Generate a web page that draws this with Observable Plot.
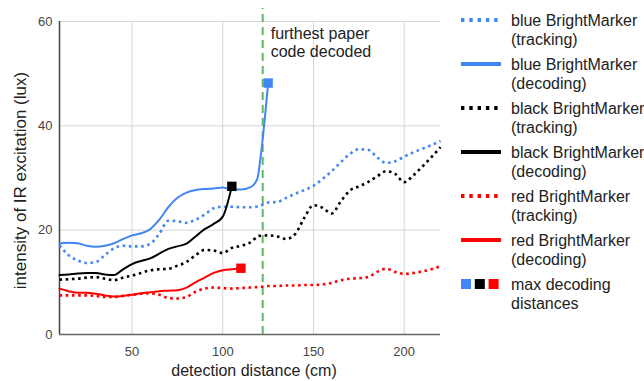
<!DOCTYPE html>
<html>
<head>
<meta charset="utf-8">
<script src="https://cdn.jsdelivr.net/npm/d3@7"></script>
<script src="https://cdn.jsdelivr.net/npm/@observablehq/plot@0.6"></script>
<style>
  html, body { margin: 0; padding: 0; background: #fff; }
  #wrap { position: relative; width: 644px; height: 381px; overflow: hidden; font-family: "Liberation Sans", Arial, sans-serif; }
  #legend { position: absolute; left: 461px; top: 0; width: 190px; }
  .item { position: absolute; left: 0; height: 38px; }
  .item svg { position: absolute; left: 0; }
  .item .lbl { position: absolute; left: 50px; top: 1px; font-size: 16px; line-height: 19px; color: #222; white-space: nowrap; }
</style>
</head>
<body>
<div id="wrap"><div id="legend"></div></div>
<script>
// ---- data ----
const dist = [10,15,20,25,30,35,40,45,50,55,60,65,70,75,80,85,90,95,100,105,110,115,120,125,130,135,140,145,150,155,160,165,170,175,180,185,190,195,200,205,210,215,220];
const blueTracking  = [17.1,15.2,14.2,13.7,13.9,15.2,16.5,17.0,16.9,16.9,17.4,19.3,21.8,21.7,21.4,22.0,23.0,24.2,24.5,24.5,24.4,24.4,24.6,25.3,25.4,26.2,27.0,27.7,28.5,29.8,31.3,33.0,34.6,35.5,35.4,34.0,32.9,33.2,34.1,34.9,35.6,36.3,37.1];
const blackTracking = [10.5,10.6,10.7,10.9,11.0,10.7,10.4,10.9,11.3,11.8,12.3,12.5,12.6,13.2,13.9,15.2,16.2,16.1,15.6,16.6,17.0,17.6,18.9,19.0,18.8,18.3,19.3,22.4,24.8,24.3,23.2,25.5,27.6,28.4,29.2,30.3,31.3,30.8,29.2,30.5,32.2,34.0,35.9];
const redTracking   = [7.5,7.5,7.5,7.5,7.4,7.2,7.2,7.4,7.6,7.8,7.9,7.6,7.0,6.9,7.2,8.2,8.8,9.0,8.9,8.8,8.9,9.0,9.1,9.3,9.3,9.4,9.4,9.5,9.5,9.6,9.9,10.4,10.7,10.8,11.0,12.0,12.6,12.0,11.6,11.8,12.1,12.5,13.1];

const blueDecDist  = [10,15,20,25,30,35,40,45,50,55,60,65,70,75,80,85,90,95,100,105,110,115,119,121,125];
const blueDecoding = [17.5,17.6,17.5,17.0,16.8,17.0,17.5,18.3,19.0,19.4,20.2,22.0,24.4,26.2,27.2,27.7,27.9,28.0,28.2,27.8,27.8,28.2,29.8,34.5,48.2];
const blackDecDist  = [10,15,20,25,30,35,40,45,50,55,60,65,70,75,80,85,90,95,100,105];
const blackDecoding = [11.4,11.5,11.7,11.8,11.8,11.5,11.4,12.5,13.5,14.1,14.6,15.5,16.4,16.9,17.4,18.8,20.2,21.2,22.6,28.4];
const redDecDist  = [10,15,20,25,30,35,40,45,50,55,60,65,70,75,80,85,90,95,100,105,110];
const redDecoding = [8.8,8.3,8.0,8.0,7.8,7.5,7.3,7.4,7.6,7.9,8.1,8.3,8.4,8.5,9.0,10.0,10.9,11.8,12.3,12.5,12.7];

const maxDist = [125, 105, 110];
const maxLux  = [48.2, 28.4, 12.7];
const maxColors = ["#4285f4", "#000000", "#ff0000"];

const furthestDist = 122;
const furthestTop = 62.5;
const annotation = "furthest paper\ncode decoded";

const xTicks = [50, 100, 150, 200];
const yTicks = [0, 20, 40, 60];
const xDomain = [10, 220];
const yDomain = [0, 60];

const legendLabels = [
  "blue BrightMarker\n(tracking)", "blue BrightMarker\n(decoding)",
  "black BrightMarker\n(tracking)", "black BrightMarker\n(decoding)",
  "red BrightMarker\n(tracking)", "red BrightMarker\n(decoding)",
  "max decoding\ndistances"
];

// ---- build ----
const rows = (xs, ys) => xs.map((x, i) => ({x, y: ys[i]}));
const dotted = {strokeWidth: 2.6, strokeDasharray: "2.6,3.6", strokeLinecap: "butt"};
const solid = {strokeWidth: 2};
const series = [
  {data: rows(dist, blueTracking), color: "#4285f4", style: dotted},
  {data: rows(dist, blackTracking), color: "#000000", style: dotted},
  {data: rows(dist, redTracking), color: "#ff0000", style: dotted},
  {data: rows(blueDecDist, blueDecoding), color: "#4285f4", style: solid},
  {data: rows(blackDecDist, blackDecoding), color: "#000000", style: solid},
  {data: rows(redDecDist, redDecoding), color: "#ff0000", style: solid}
];

const chart = Plot.plot({
  width: 644, height: 381,
  marginLeft: 59, marginRight: 204, marginTop: 21, marginBottom: 47,
  style: {fontFamily: "'Liberation Sans', Arial, sans-serif", fontSize: "13px", color: "#444", background: "transparent", overflow: "visible"},
  x: {domain: xDomain},
  y: {domain: yDomain},
  marks: [
    Plot.gridX(xTicks, {stroke: "#d6d6d6", strokeOpacity: 1, strokeWidth: 1}),
    Plot.gridY(yTicks.filter(t => t > 0), {stroke: "#d6d6d6", strokeOpacity: 1, strokeWidth: 1}),
    Plot.axisX({ticks: xTicks, tickSize: 0, tickPadding: 12, label: null, fontSize: 13}),
    Plot.axisY({ticks: yTicks, tickSize: 0, tickPadding: 7, label: null, fontSize: 13}),
    Plot.ruleY([yDomain[0]], {stroke: "#666", strokeWidth: 1.5}),
    Plot.ruleX([xDomain[0]], {stroke: "#444", strokeWidth: 1.5}),
    Plot.ruleX([furthestDist], {y1: 0, y2: furthestTop, stroke: "#5fb760", strokeWidth: 2, strokeDasharray: "8,5"}),
    ...series.map(s => Plot.line(s.data, {x: "x", y: "y", stroke: s.color, curve: "monotone-x", ...s.style})),
    ...maxDist.map((d, i) => Plot.dot([{x: d, y: maxLux[i]}], {x: "x", y: "y", symbol: "square", r: 5.3, fill: maxColors[i], stroke: "none"})),
    Plot.text([annotation], {x: () => furthestDist, frameAnchor: "top", textAnchor: "start", lineAnchor: "top", dx: 8, dy: 4, fontSize: 16, lineHeight: 1.15, fill: "#222"}),
    Plot.text(["detection distance (cm)"], {frameAnchor: "bottom", textAnchor: "middle", lineAnchor: "middle", dx: 4, dy: 36, fontSize: 16, fill: "#222"}),
    Plot.text(["intensity of IR excitation (lux)"], {frameAnchor: "left", textAnchor: "middle", lineAnchor: "middle", rotate: -90, dx: -39, dy: 2.5, fontSize: 17, fill: "#222"})
  ]
});
document.getElementById("wrap").prepend(chart);

// ---- legend ----
const legend = d3.select("#legend");
const swatchStyles = [
  {c: "#4285f4", dash: "3.4,4.9"}, {c: "#4285f4", dash: null},
  {c: "#000000", dash: "3.4,4.9"}, {c: "#000000", dash: null},
  {c: "#ff0000", dash: "3.4,4.9"}, {c: "#ff0000", dash: null}
];
legendLabels.forEach((lab, i) => {
  const item = legend.append("div").attr("class", "item").style("top", (10 + 44 * i) + "px");
  const svg = item.append("svg").attr("width", 42).attr("height", 20).style("top", "0px");
  if (i < 6) {
    const s = swatchStyles[i];
    const ln = svg.append("line").attr("x1", 0).attr("x2", 40).attr("y1", 10).attr("y2", 10)
      .attr("stroke", s.c).attr("stroke-width", 4);
    if (s.dash) ln.attr("stroke-dasharray", s.dash);
  } else {
    maxColors.forEach((c, j) => svg.append("rect").attr("x", j * 13.8).attr("y", 5).attr("width", 10).attr("height", 10).attr("fill", c));
  }
  const t = item.append("div").attr("class", "lbl");
  lab.split("\n").forEach(line => t.append("div").text(line));
});
</script>
</body>
</html>
